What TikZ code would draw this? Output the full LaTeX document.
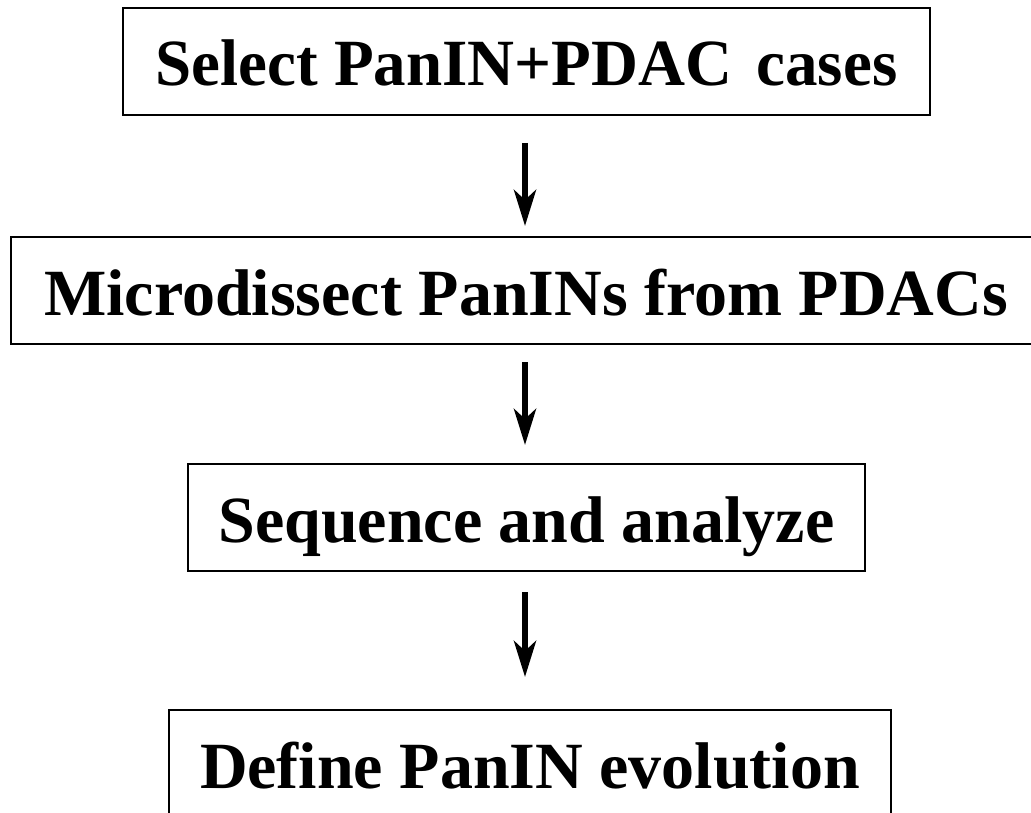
\documentclass[tikz,border=0pt]{standalone}
\usepackage{fontspec}
\setmainfont{Liberation Serif}
\newfontfamily\narrowserif[FakeStretch=0.985]{Liberation Serif}
\usetikzlibrary{arrows.meta}
\begin{document}
\begin{tikzpicture}[x=1pt,y=-1pt,
  stepbox/.style={draw=black, line width=2pt, rectangle, inner sep=0pt,
    minimum height=107pt, text height=49pt, text depth=0pt,
    font=\fontsize{66}{70}\selectfont\bfseries},
  flowarrow/.style={line width=6pt,
    -{Stealth[length=36pt,width=22pt,inset=10pt]}}]
  \useasboundingbox (0,0) rectangle (1031,813);
  \node[stepbox, minimum width=807pt]  (b1) at (526.5,61.5)  {\narrowserif Select PanIN+PDAC\hspace{0.12em} cases};
  \node[stepbox, minimum width=1030pt] (b2) at (526,290.5)   {Microdissect PanINs from PDACs};
  \node[stepbox, minimum width=677pt]  (b3) at (526.5,517.5) {Sequence and analyze};
  \node[stepbox, minimum width=722pt]  (b4) at (530,763.5)   {Define PanIN evolution};
  \coordinate (ax) at (525,0);
  \draw[flowarrow, shorten <=27pt, shorten >=10pt] (b1.south -| ax) -- (b2.north -| ax);
  \draw[flowarrow, shorten <=17pt, shorten >=18pt] (b2.south -| ax) -- (b3.north -| ax);
  \draw[flowarrow, shorten <=20pt, shorten >=32pt] (b3.south -| ax) -- (b4.north -| ax);
\end{tikzpicture}
\end{document}
